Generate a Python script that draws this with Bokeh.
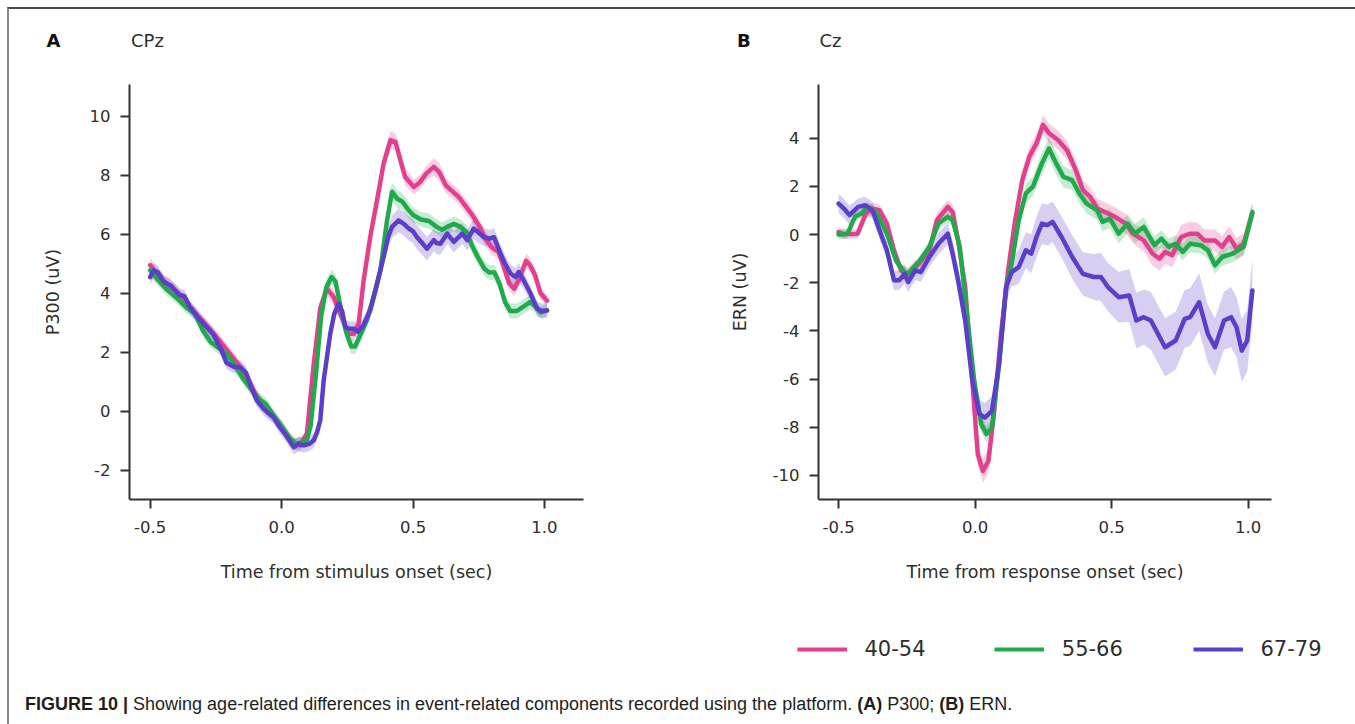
from bokeh.plotting import figure
from bokeh.models import Range1d, FixedTicker, NumeralTickFormatter, Label, Legend, LegendItem, Div
from bokeh.layouts import row, column
from bokeh.embed import file_html
from bokeh.resources import INLINE

# ---------------- data ----------------
groups = ["40-54", "55-66", "67-79"]

# Panel A: P300 at CPz, time from stimulus onset (s)
a_pink_x = [-0.5, -0.47, -0.44, -0.40, -0.36, -0.32, -0.28, -0.25, -0.21, -0.17,
            -0.13, -0.10, -0.07, -0.04, -0.01, 0.02, 0.045, 0.07, 0.096, 0.122,
            0.147, 0.172, 0.198, 0.223, 0.255, 0.274, 0.293, 0.312, 0.337, 0.363,
            0.388, 0.414, 0.433, 0.452, 0.47, 0.503, 0.525, 0.55, 0.579, 0.60,
            0.625, 0.65, 0.675, 0.70, 0.725, 0.75, 0.775, 0.80, 0.825, 0.845,
            0.865, 0.885, 0.905, 0.93, 0.945, 0.965, 0.985, 1.01]
a_pink_y = [4.95, 4.6, 4.35, 4.05, 3.65, 3.25, 2.85, 2.55, 2.1, 1.65,
            1.15, 0.6, 0.2, -0.1, -0.4, -0.8, -1.1, -1.15, -0.76, 1.6,
            3.5, 4.16, 3.88, 3.3, 2.63, 2.63, 2.97, 4.44, 5.9, 7.15,
            8.4, 9.19, 9.13, 8.5, 7.94, 7.6, 7.75, 8.05, 8.28, 8.1,
            7.65, 7.45, 7.25, 6.95, 6.65, 6.3, 5.85, 5.55, 5.4, 4.9,
            4.35, 4.15, 4.5, 5.1, 4.95, 4.6, 4.0, 3.75]
a_pink_sem = [0.25, 0.22, 0.22, 0.22, 0.2, 0.2, 0.2, 0.2, 0.2, 0.2,
              0.2, 0.2, 0.2, 0.2, 0.2, 0.2, 0.2, 0.2, 0.2, 0.25,
              0.25, 0.25, 0.25, 0.25, 0.2, 0.2, 0.25, 0.3, 0.3, 0.3,
              0.3, 0.3, 0.3, 0.3, 0.3, 0.25, 0.25, 0.25, 0.3, 0.3,
              0.25, 0.25, 0.25, 0.25, 0.25, 0.25, 0.25, 0.25, 0.25, 0.25,
              0.25, 0.25, 0.25, 0.25, 0.25, 0.25, 0.2, 0.2]

a_green_x = [-0.5, -0.47, -0.44, -0.40, -0.36, -0.33, -0.30, -0.27, -0.24, -0.21,
             -0.18, -0.15, -0.12, -0.09, -0.06, -0.03, 0.0, 0.03, 0.055, 0.075,
             0.095, 0.11, 0.13, 0.15, 0.17, 0.19, 0.205, 0.225, 0.245, 0.265,
             0.28, 0.30, 0.325, 0.35, 0.376, 0.40, 0.42, 0.44, 0.46, 0.48,
             0.50, 0.53, 0.56, 0.59, 0.61, 0.63, 0.655, 0.68, 0.705, 0.725,
             0.745, 0.77, 0.79, 0.81, 0.83, 0.85, 0.87, 0.895, 0.92, 0.945,
             0.965, 0.985, 1.01]
a_green_y = [4.78, 4.45, 4.15, 3.85, 3.5, 3.3, 2.75, 2.35, 2.15, 1.95,
             1.6, 1.15, 0.8, 0.45, 0.25, -0.15, -0.5, -0.9, -1.1, -1.05,
             -1.0, -0.5, 1.2, 3.2, 4.2, 4.55, 4.4, 3.5, 2.7, 2.2,
             2.2, 2.6, 3.1, 3.9, 4.8, 6.4, 7.44, 7.2, 7.1, 6.85,
             6.65, 6.5, 6.45, 6.25, 6.15, 6.25, 6.35, 6.25, 6.05, 5.6,
             5.25, 4.85, 4.7, 4.7, 4.3, 3.7, 3.4, 3.4, 3.55, 3.7,
             3.55, 3.35, 3.42]
a_green_sem = [0.22, 0.2, 0.2, 0.2, 0.2, 0.2, 0.2, 0.2, 0.2, 0.2,
               0.2, 0.2, 0.2, 0.2, 0.2, 0.2, 0.2, 0.2, 0.2, 0.2,
               0.2, 0.2, 0.25, 0.25, 0.25, 0.25, 0.25, 0.25, 0.25, 0.25,
               0.25, 0.25, 0.25, 0.25, 0.3, 0.3, 0.3, 0.3, 0.28, 0.28,
               0.25, 0.25, 0.25, 0.25, 0.25, 0.25, 0.25, 0.25, 0.25, 0.25,
               0.25, 0.25, 0.25, 0.25, 0.25, 0.25, 0.25, 0.25, 0.25, 0.25,
               0.2, 0.2, 0.2]

a_purple_x = [-0.5, -0.487, -0.47, -0.45, -0.42, -0.39, -0.37, -0.35, -0.32, -0.29,
              -0.26, -0.23, -0.21, -0.18, -0.157, -0.135, -0.115, -0.094, -0.07, -0.045,
              -0.03, -0.01, 0.02, 0.046, 0.065, 0.084, 0.105, 0.122, 0.135, 0.147,
              0.16, 0.185, 0.2, 0.217, 0.23, 0.242, 0.258, 0.274, 0.29, 0.31,
              0.337, 0.36, 0.388, 0.405, 0.42, 0.445, 0.465, 0.483, 0.50, 0.515,
              0.535, 0.553, 0.579, 0.59, 0.604, 0.63, 0.655, 0.687, 0.706, 0.731,
              0.75, 0.77, 0.79, 0.808, 0.833, 0.85, 0.871, 0.89, 0.902, 0.92,
              0.947, 0.972, 0.99, 1.01]
a_purple_y = [4.55, 4.78, 4.7, 4.4, 4.25, 3.95, 3.9, 3.55, 3.2, 2.9,
              2.6, 2.1, 1.65, 1.5, 1.5, 1.3, 0.8, 0.37, 0.1, -0.1,
              -0.2, -0.5, -0.85, -1.21, -1.1, -1.15, -1.1, -0.98, -0.7, -0.3,
              1.05, 2.63, 3.3, 3.65, 3.4, 2.86, 2.8, 2.8, 2.7, 2.9,
              3.42, 4.2, 5.23, 5.9, 6.25, 6.47, 6.35, 6.2, 6.1, 5.9,
              5.7, 5.51, 5.8, 5.7, 5.68, 6.02, 5.74, 6.02, 5.8, 6.19,
              6.05, 5.9, 5.85, 5.9, 5.34, 5.0, 4.67, 4.55, 4.72, 4.45,
              3.99, 3.48, 3.4, 3.42]
a_purple_sem = [0.25, 0.25, 0.22, 0.22, 0.22, 0.22, 0.22, 0.22, 0.22, 0.22,
                0.22, 0.22, 0.22, 0.22, 0.22, 0.22, 0.22, 0.22, 0.22, 0.22,
                0.22, 0.22, 0.22, 0.25, 0.25, 0.25, 0.25, 0.25, 0.25, 0.25,
                0.25, 0.25, 0.25, 0.25, 0.25, 0.25, 0.25, 0.25, 0.25, 0.25,
                0.28, 0.3, 0.32, 0.35, 0.38, 0.4, 0.4, 0.4, 0.4, 0.4,
                0.4, 0.4, 0.38, 0.38, 0.38, 0.35, 0.35, 0.35, 0.35, 0.35,
                0.35, 0.3, 0.3, 0.3, 0.3, 0.3, 0.3, 0.3, 0.3, 0.3,
                0.25, 0.25, 0.25, 0.25]

# Panel B: ERN at Cz, time from response onset (s)
b_pink_x = [-0.5, -0.48, -0.43, -0.40, -0.376, -0.35, -0.323, -0.297, -0.271, -0.245,
            -0.206, -0.167, -0.14, -0.1, -0.082, -0.062, -0.036, -0.01, 0.01, 0.029,
            0.049, 0.069, 0.095, 0.121, 0.147, 0.173, 0.199, 0.225, 0.249, 0.271,
            0.304, 0.337, 0.369, 0.395, 0.422, 0.448, 0.487, 0.513, 0.552, 0.578,
            0.618, 0.65, 0.676, 0.696, 0.722, 0.755, 0.788, 0.814, 0.84, 0.879,
            0.905, 0.931, 0.958, 0.984, 1.016]
b_pink_y = [0.11, 0.01, 0.04, 0.88, 1.08, 1.01, 0.46, -0.65, -1.49, -1.63,
            -1.21, -0.65, 0.6, 1.15, 0.94, -0.24, -2.18, -6.07, -9.13, -9.82,
            -9.4, -7.46, -4.13, -1.49, 0.6, 2.26, 3.24, 3.79, 4.56, 4.21,
            3.93, 3.51, 2.68, 1.85, 1.57, 1.08, 0.88, 0.74, 0.46, 0.04,
            -0.24, -0.79, -1.0, -0.72, -0.86, -0.1, 0.04, 0.04, -0.24, -0.24,
            -0.51, -0.1, -0.58, -0.38, 0.88]
b_pink_sem = [0.2, 0.2, 0.2, 0.25, 0.25, 0.25, 0.25, 0.25, 0.25, 0.25,
              0.25, 0.3, 0.3, 0.3, 0.3, 0.3, 0.35, 0.4, 0.45, 0.5,
              0.5, 0.45, 0.4, 0.35, 0.35, 0.4, 0.4, 0.4, 0.4, 0.4,
              0.4, 0.4, 0.4, 0.4, 0.4, 0.4, 0.4, 0.4, 0.4, 0.4,
              0.45, 0.5, 0.5, 0.5, 0.5, 0.5, 0.5, 0.45, 0.45, 0.45,
              0.45, 0.45, 0.45, 0.45, 0.45]

b_green_x = [-0.5, -0.467, -0.44, -0.415, -0.395, -0.363, -0.323, -0.29, -0.252, -0.206,
             -0.167, -0.134, -0.1, -0.082, -0.056, -0.03, -0.003, 0.023, 0.042, 0.062,
             0.088, 0.114, 0.134, 0.16, 0.186, 0.212, 0.245, 0.271, 0.297, 0.324,
             0.356, 0.382, 0.408, 0.448, 0.467, 0.494, 0.526, 0.559, 0.586, 0.618,
             0.657, 0.683, 0.709, 0.735, 0.761, 0.788, 0.827, 0.853, 0.879, 0.905,
             0.944, 0.984, 1.016]
b_green_y = [0.0, 0.04, 0.74, 0.88, 1.15, 0.94, 0.04, -1.07, -1.69, -1.14,
             -0.51, 0.46, 0.74, 0.6, -0.51, -3.29, -6.07, -7.88, -8.29, -8.01,
             -5.38, -2.18, -1.21, 0.6, 1.71, 1.99, 2.96, 3.58, 2.96, 2.4,
             2.26, 1.71, 1.29, 1.01, 0.53, 0.67, 0.04, 0.46, 0.04, 0.32,
             -0.44, -0.17, -0.51, -0.38, -0.72, -0.38, -0.44, -0.65, -1.28, -0.93,
             -0.79, -0.51, 0.94]
b_green_sem = [0.2, 0.2, 0.2, 0.2, 0.2, 0.2, 0.2, 0.2, 0.2, 0.2,
               0.25, 0.25, 0.25, 0.25, 0.3, 0.3, 0.35, 0.35, 0.35, 0.35,
               0.35, 0.35, 0.35, 0.35, 0.4, 0.4, 0.45, 0.45, 0.45, 0.45,
               0.4, 0.4, 0.4, 0.4, 0.4, 0.4, 0.4, 0.4, 0.4, 0.4,
               0.35, 0.35, 0.35, 0.35, 0.35, 0.35, 0.35, 0.35, 0.35, 0.35,
               0.35, 0.35, 0.4]

b_purple_x = [-0.5, -0.48, -0.46, -0.428, -0.402, -0.376, -0.35, -0.323, -0.297, -0.278,
              -0.258, -0.245, -0.219, -0.199, -0.167, -0.134, -0.1, -0.082, -0.062, -0.036,
              -0.01, 0.016, 0.036, 0.062, 0.088, 0.114, 0.134, 0.16, 0.186, 0.206,
              0.225, 0.245, 0.265, 0.284, 0.317, 0.356, 0.395, 0.435, 0.461, 0.487,
              0.526, 0.565, 0.591, 0.618, 0.644, 0.696, 0.735, 0.768, 0.788, 0.821,
              0.853, 0.879, 0.912, 0.938, 0.958, 0.977, 0.997, 1.016]
b_purple_y = [1.29, 1.08, 0.81, 1.15, 1.22, 1.01, 0.18, -0.65, -1.9, -1.9,
              -1.63, -1.97, -1.49, -1.56, -0.93, -0.38, 0.04, -0.79, -1.9, -3.57,
              -6.07, -7.46, -7.6, -7.32, -5.38, -2.18, -1.56, -1.35, -0.65, -0.79,
              -0.1, 0.46, 0.39, 0.53, -0.1, -0.93, -1.63, -1.76, -1.76, -2.18,
              -2.6, -2.53, -3.57, -3.43, -3.57, -4.68, -4.4, -3.5, -3.43, -2.81,
              -4.13, -4.68, -3.57, -3.43, -3.85, -4.82, -4.4, -2.32]
b_purple_sem = [0.4, 0.4, 0.4, 0.35, 0.35, 0.35, 0.35, 0.35, 0.4, 0.4,
                0.4, 0.4, 0.4, 0.4, 0.4, 0.45, 0.45, 0.5, 0.55, 0.6,
                0.6, 0.6, 0.6, 0.6, 0.6, 0.6, 0.6, 0.7, 0.75, 0.8,
                0.85, 0.85, 0.85, 0.85, 0.85, 0.9, 0.9, 0.95, 1.0, 1.0,
                1.05, 1.1, 1.15, 1.15, 1.2, 1.2, 1.2, 1.2, 1.2, 1.2,
                1.2, 1.2, 1.2, 1.25, 1.25, 1.3, 1.3, 1.3]

x_ticks = [-0.5, 0.0, 0.5, 1.0]
a_y_ticks = [-2, 0, 2, 4, 6, 8, 10]
b_y_ticks = [-10, -8, -6, -4, -2, 0, 2, 4]

panel_letters = ["A", "B"]
panel_channels = ["CPz", "Cz"]

caption_html = ("<b>FIGURE 10 |</b> Showing age-related differences in event-related "
                "components recorded using the platform. <b>(A)</b> P300; <b>(B)</b> ERN.")

# ---------------- styling ----------------
FONT = "DejaVu Sans"
INK = "#2e2e2e"
colors = ["#e2408c", "#21aa4b", "#5b3fca"]
STRIP_W = 1346
HEAD_H = 61          # page y 9 .. 70
PANEL_H = 530        # page y 70 .. 600
TOP, FRAME_H = 14, 415


def make_panel(width, border_left, frame_w, xr, yr, yticks, ylabel, xlabel,
               ylabel_standoff, series):
    p = figure(width=width, height=PANEL_H,
               x_range=Range1d(*xr), y_range=Range1d(*yr),
               output_backend="svg", toolbar_location=None,
               min_border_left=border_left,
               min_border_right=width - border_left - frame_w,
               min_border_top=TOP, min_border_bottom=PANEL_H - TOP - FRAME_H)
    p.grid.visible = False
    p.outline_line_color = None
    for (x, y, s), c in zip(series, colors):
        lo = [a - b for a, b in zip(y, s)]
        hi = [a + b for a, b in zip(y, s)]
        p.varea(x=x, y1=lo, y2=hi, fill_color=c, fill_alpha=0.25)
    for (x, y, s), c in zip(series, colors):
        p.line(x=x, y=y, line_color=c, line_width=4.5,
               line_join="round", line_cap="round")

    p.xaxis.ticker = FixedTicker(ticks=x_ticks)
    p.xaxis.formatter = NumeralTickFormatter(format="0.0")
    p.yaxis.ticker = FixedTicker(ticks=yticks)
    p.yaxis.formatter = NumeralTickFormatter(format="0")
    p.xaxis.axis_label = xlabel
    p.yaxis.axis_label = ylabel
    for ax in (p.xaxis[0], p.yaxis[0]):
        ax.axis_line_color = "#333333"
        ax.axis_line_width = 2
        ax.major_tick_line_color = "#333333"
        ax.major_tick_line_width = 2
        ax.major_tick_out = 9
        ax.major_tick_in = 0
        ax.minor_tick_line_color = None
        ax.major_label_text_font = FONT
        ax.major_label_text_font_size = "16.5px"
        ax.major_label_text_color = INK
        ax.axis_label_text_font = FONT
        ax.axis_label_text_font_size = "17.5px"
        ax.axis_label_text_font_style = "normal"
        ax.axis_label_text_color = INK
    p.xaxis.major_label_standoff = 12
    p.xaxis.axis_label_standoff = 26
    p.yaxis.major_label_standoff = 10
    p.yaxis.axis_label_standoff = ylabel_standoff
    return p


pA = make_panel(681, 120, 454, (-0.5788, 1.1485), (-2.983, 11.07), a_y_ticks,
                "P300 (uV)", "Time from stimulus onset (sec)", 24,
                [(a_pink_x, a_pink_y, a_pink_sem),
                 (a_green_x, a_green_y, a_green_sem),
                 (a_purple_x, a_purple_y, a_purple_sem)])
pB = make_panel(665, 128, 453, (-0.5735, 1.086), (-11.006, 6.237), b_y_ticks,
                "ERN (uV)", "Time from response onset (sec)", 20,
                [(b_pink_x, b_pink_y, b_pink_sem),
                 (b_green_x, b_green_y, b_green_sem),
                 (b_purple_x, b_purple_y, b_purple_sem)])


def strip(height):
    s = figure(width=STRIP_W, height=height, x_range=Range1d(0, STRIP_W),
               y_range=Range1d(0, height), output_backend="svg",
               toolbar_location=None, x_axis_type=None, y_axis_type=None,
               min_border=0)
    s.grid.visible = False
    s.outline_line_color = None
    return s


# heading strip: panel letters and channel names
head = strip(HEAD_H)
for letter, chan, lx, cx in zip(panel_letters, panel_channels, [37, 727.5], [121.5, 810]):
    head.add_layout(Label(x=lx, y=30.5, text=letter, text_font=FONT,
                          text_font_size="18px", text_font_style="bold",
                          text_color="#111111", text_baseline="middle"))
    head.add_layout(Label(x=cx, y=30.5, text=chan, text_font=FONT,
                          text_font_size="18px", text_color=INK,
                          text_baseline="middle"))

# legend strip
pL = strip(90)
legend_x = [787.5, 984.8, 1183.5]
for g, c, lx in zip(groups, colors, legend_x):
    r = pL.line(x=[float("nan")], y=[float("nan")], line_color=c, line_width=4.2)
    leg = Legend(items=[LegendItem(label=g, renderers=[r])], location=(lx, 29),
                 orientation="horizontal", glyph_width=50, glyph_height=24,
                 label_height=24, label_standoff=18, padding=0, margin=0,
                 spacing=0, border_line_color=None, background_fill_alpha=0,
                 label_text_font=FONT, label_text_font_size="21px",
                 label_text_color=INK)
    pL.add_layout(leg)

caption = Div(text=caption_html, width=STRIP_W, height=34, margin=0,
              styles={"font-family": "'Liberation Sans', Arial, sans-serif",
                      "font-size": "18px", "color": "#1e1e1e",
                      "padding-left": "16px", "padding-top": "2px",
                      "white-space": "nowrap"})

layout = column(head, row(pA, pB), pL, caption, margin=(7, 0, 0, 7),
                styles={"border-top": "2px solid #474747",
                        "border-left": "2px solid #8a8a8a"})

with open("out.html", "w") as f:
    f.write(file_html(layout, INLINE))
